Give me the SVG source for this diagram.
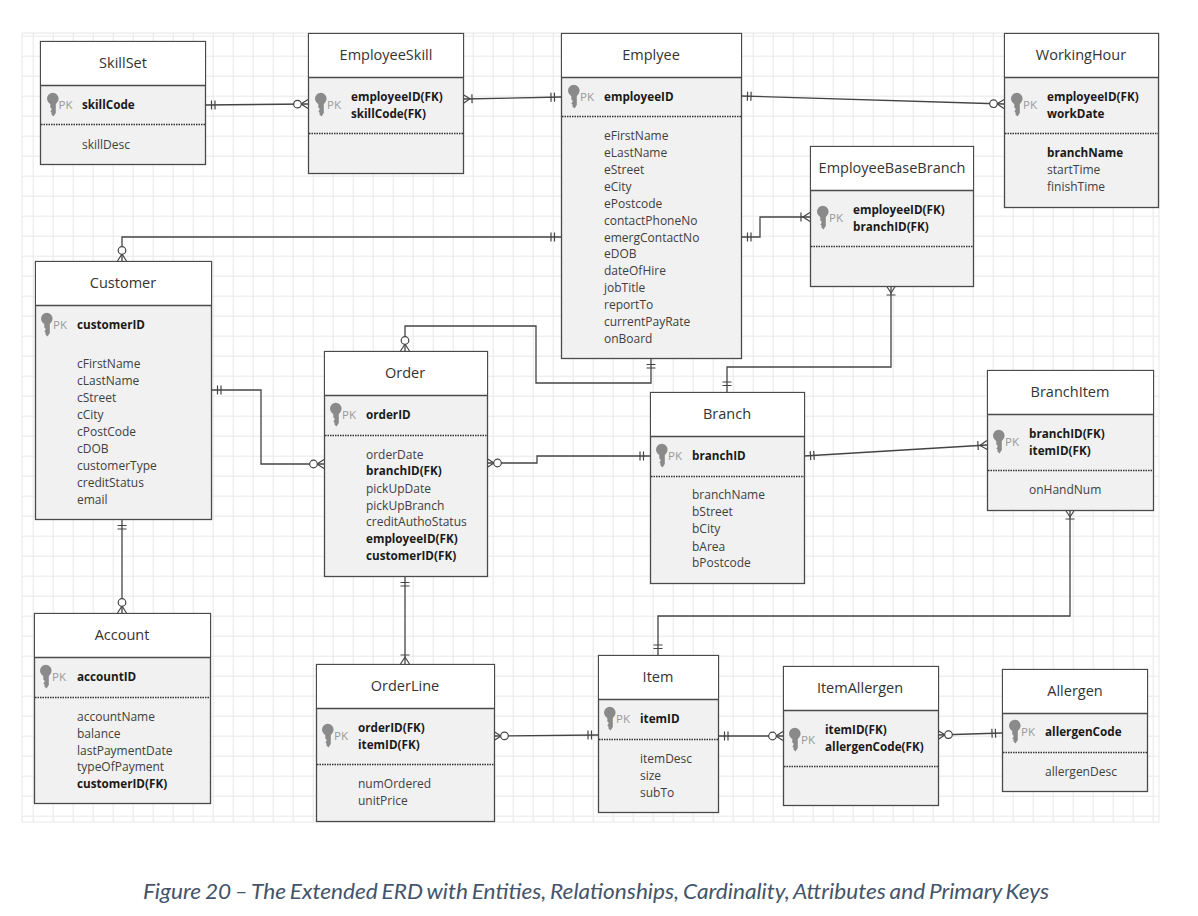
<svg xmlns="http://www.w3.org/2000/svg" width="1198" height="916" viewBox="0 0 1198 916">
<style>
text{font-family:"Open Sans","Noto Sans","Liberation Sans",sans-serif;fill:#333}
.t{font-size:14.5px;text-anchor:middle}
.a{font-size:12px;fill:#404040}
.b{font-size:11.7px;font-weight:700;fill:#1a1a1a}
.p{font-size:11.5px;fill:#9a9a9a}
.h{fill:#fff;stroke:none}
.f{fill:#f1f1f1;stroke:#4a4a4a;stroke-width:1.3}
.s{stroke:#4a4a4a;stroke-width:1.3;fill:none}
.d{stroke:#333;stroke-width:1.3;stroke-dasharray:1.5 1;fill:none}
.c{fill:none;stroke:#444;stroke-width:1.3}
.cap{font-family:Lato,"Open Sans",sans-serif;font-size:21.5px;font-style:italic;fill:#44546a;word-spacing:-1.5px}
</style>
<defs>
<pattern id="g" x="13.7" y="16.7" width="20" height="20" patternUnits="userSpaceOnUse"><path d="M20 0V20M0 20H20" fill="none" stroke="#e8e8e8" stroke-width="2"/></pattern>
<g id="key"><path d="M0 5.500A5.800 5.800 0 0 1 11.600 5.500C11.600 8.500 9.500 10 8.800 11V20L6.500 23.500L4.500 21.500V19.500L3.300 18.500L4.500 17V15.500L3.300 14.500V11C2 10 0 8.500 0 5.500Z" fill="#8a8a8a"/></g>
<marker id="one" markerUnits="userSpaceOnUse" markerWidth="24" markerHeight="24" refX="20" refY="12" orient="auto-start-reverse" viewBox="0 0 24 24"><path d="M10 7.500V16.500M13.500 7.500V16.500" stroke="#444" stroke-width="1.2" fill="none"/></marker>
<marker id="om" markerUnits="userSpaceOnUse" markerWidth="24" markerHeight="24" refX="20" refY="12" orient="auto-start-reverse" viewBox="0 0 24 24"><path d="M20 7.500L13 12L20 16.500M11 7.500V16.500" stroke="#444" stroke-width="1.2" fill="none"/></marker>
<marker id="zm" markerUnits="userSpaceOnUse" markerWidth="24" markerHeight="24" refX="20" refY="12" orient="auto-start-reverse" viewBox="0 0 24 24"><path d="M20 7.500L13 12L20 16.500" stroke="#444" stroke-width="1.2" fill="none"/><circle cx="9.500" cy="12" r="3.800" fill="#fff" stroke="#444" stroke-width="1.2"/></marker>
</defs>
<rect width="1198" height="916" fill="#fff"/>
<rect x="22" y="33" width="1137" height="789" fill="url(#g)" stroke="#e8e8e8"/>

<g id="connectors" class="c">
<path d="M205 105L308 104" marker-start="url(#one)" marker-end="url(#zm)"/>
<path d="M463 99L561 97" marker-start="url(#om)" marker-end="url(#one)"/>
<path d="M741 96L1004 104" marker-start="url(#one)" marker-end="url(#zm)"/>
<path d="M741 237H760V217H810" marker-start="url(#one)" marker-end="url(#om)"/>
<path d="M561 237H122V261" marker-start="url(#one)" marker-end="url(#zm)"/>
<path d="M211 390H261V464H324" marker-start="url(#one)" marker-end="url(#zm)"/>
<path d="M487 463H537V456H650" marker-start="url(#zm)" marker-end="url(#one)"/>
<path d="M405 351V326H536V383H651V358" marker-start="url(#zm)" marker-end="url(#one)"/>
<path d="M891 286V367H727V392" marker-start="url(#om)" marker-end="url(#one)"/>
<path d="M804 456L987 445" marker-start="url(#one)" marker-end="url(#om)"/>
<path d="M1070 510V616H658V655" marker-start="url(#om)" marker-end="url(#one)"/>
<path d="M122 519L122 613" marker-start="url(#one)" marker-end="url(#zm)"/>
<path d="M405 576V664" marker-start="url(#one)" marker-end="url(#om)"/>
<path d="M494 736L598 735" marker-start="url(#zm)" marker-end="url(#one)"/>
<path d="M718 736H783" marker-start="url(#one)" marker-end="url(#zm)"/>
<path d="M938 735L1002 733" marker-start="url(#zm)" marker-end="url(#one)"/>
</g>

<g id="SkillSet"><rect class="f" x="40.500" y="41.500" width="165" height="123"/><rect class="h" x="41" y="42" width="164" height="43"/><path class="s" d="M40.500 85.500H205.500"/><path class="d" d="M41 124.500H205"/>
<text class="t" x="123" y="68">SkillSet</text><use href="#key" x="47" y="93"/><text class="p" x="58.500" y="109">PK</text><text class="b" x="82" y="109">skillCode</text><text class="a" x="82" y="149">skillDesc</text></g>

<g id="EmployeeSkill"><rect class="f" x="308.500" y="33.500" width="155" height="140"/><rect class="h" x="309" y="34" width="154" height="43"/><path class="s" d="M308.500 77.500H463.500"/><path class="d" d="M309 133.500H463"/>
<text class="t" x="386" y="60">EmployeeSkill</text><use href="#key" x="315" y="93"/><text class="p" x="327" y="109">PK</text><text class="b" x="351" y="101">employeeID(FK)</text><text class="b" x="351" y="118">skillCode(FK)</text></g>

<g id="Emplyee"><rect class="f" x="561.500" y="33.500" width="180" height="325"/><rect class="h" x="562" y="34" width="179" height="43"/><path class="s" d="M561.500 77.500H741.500"/><path class="d" d="M562 116.500H741"/>
<text class="t" x="651" y="60">Emplyee</text><use href="#key" x="568" y="85"/><text class="p" x="580" y="101">PK</text><text class="b" x="604" y="101">employeeID</text>
<text class="a" x="604" y="140">eFirstName</text><text class="a" x="604" y="157">eLastName</text><text class="a" x="604" y="174">eStreet</text><text class="a" x="604" y="191">eCity</text><text class="a" x="604" y="208">ePostcode</text><text class="a" x="604" y="225">contactPhoneNo</text><text class="a" x="604" y="242">emergContactNo</text><text class="a" x="604" y="258">eDOB</text><text class="a" x="604" y="275">dateOfHire</text><text class="a" x="604" y="292">jobTitle</text><text class="a" x="604" y="309">reportTo</text><text class="a" x="604" y="326">currentPayRate</text><text class="a" x="604" y="343">onBoard</text></g>

<g id="WorkingHour"><rect class="f" x="1004.500" y="33.500" width="154" height="174"/><rect class="h" x="1005" y="34" width="153" height="43"/><path class="s" d="M1004.500 77.500H1158.500"/><path class="d" d="M1005 133.500H1158"/>
<text class="t" x="1081" y="60">WorkingHour</text><use href="#key" x="1011" y="93"/><text class="p" x="1023" y="109">PK</text><text class="b" x="1047" y="101">employeeID(FK)</text><text class="b" x="1047" y="118">workDate</text><text class="b" x="1047" y="157">branchName</text><text class="a" x="1047" y="174">startTime</text><text class="a" x="1047" y="191">finishTime</text></g>

<g id="EmployeeBaseBranch"><rect class="f" x="810.500" y="146.500" width="163" height="140"/><rect class="h" x="811" y="147" width="162" height="43"/><path class="s" d="M810.500 190.500H973.500"/><path class="d" d="M811 246.500H973"/>
<text class="t" x="892" y="173">EmployeeBaseBranch</text><use href="#key" x="817" y="206"/><text class="p" x="829" y="222">PK</text><text class="b" x="853" y="214">employeeID(FK)</text><text class="b" x="853" y="231">branchID(FK)</text></g>

<g id="Customer"><rect class="f" x="35.500" y="261.500" width="176" height="258"/><rect class="h" x="36" y="262" width="175" height="43"/><path class="s" d="M35.500 305.500H211.500"/>
<text class="t" x="123" y="288">Customer</text><use href="#key" x="41" y="313"/><text class="p" x="53" y="329">PK</text><text class="b" x="77" y="329">customerID</text>
<text class="a" x="77" y="368">cFirstName</text><text class="a" x="77" y="385">cLastName</text><text class="a" x="77" y="402">cStreet</text><text class="a" x="77" y="419">cCity</text><text class="a" x="77" y="436">cPostCode</text><text class="a" x="77" y="453">cDOB</text><text class="a" x="77" y="470">customerType</text><text class="a" x="77" y="487">creditStatus</text><text class="a" x="77" y="504">email</text></g>

<g id="Order"><rect class="f" x="324.500" y="351.500" width="163" height="225"/><rect class="h" x="325" y="352" width="162" height="43"/><path class="s" d="M324.500 395.500H487.500"/><path class="d" d="M325 435.500H487"/>
<text class="t" x="405" y="378">Order</text><use href="#key" x="330" y="403"/><text class="p" x="342" y="419">PK</text><text class="b" x="366" y="419">orderID</text>
<text class="a" x="366" y="459">orderDate</text><text class="b" x="366" y="475">branchID(FK)</text><text class="a" x="366" y="493">pickUpDate</text><text class="a" x="366" y="510">pickUpBranch</text><text class="a" x="366" y="526">creditAuthoStatus</text><text class="b" x="366" y="543">employeeID(FK)</text><text class="b" x="366" y="560">customerID(FK)</text></g>

<g id="Branch"><rect class="f" x="650.500" y="392.500" width="154" height="191"/><rect class="h" x="651" y="393" width="153" height="43"/><path class="s" d="M650.500 436.500H804.500"/><path class="d" d="M651 476.500H804"/>
<text class="t" x="727" y="419">Branch</text><use href="#key" x="656" y="444"/><text class="p" x="668" y="460">PK</text><text class="b" x="692" y="460">branchID</text>
<text class="a" x="692" y="499">branchName</text><text class="a" x="692" y="516">bStreet</text><text class="a" x="692" y="533">bCity</text><text class="a" x="692" y="551">bArea</text><text class="a" x="692" y="567">bPostcode</text></g>

<g id="BranchItem"><rect class="f" x="987.500" y="370.500" width="166" height="140"/><rect class="h" x="988" y="371" width="165" height="43"/><path class="s" d="M987.500 414.500H1153.500"/><path class="d" d="M988 470.500H1153"/>
<text class="t" x="1070" y="397">BranchItem</text><use href="#key" x="993" y="430"/><text class="p" x="1005" y="446">PK</text><text class="b" x="1029" y="438">branchID(FK)</text><text class="b" x="1029" y="455">itemID(FK)</text><text class="a" x="1029" y="494">onHandNum</text></g>

<g id="Account"><rect class="f" x="34.500" y="613.500" width="176" height="190"/><rect class="h" x="35" y="614" width="175" height="43"/><path class="s" d="M34.500 657.500H210.500"/><path class="d" d="M35 697.500H210"/>
<text class="t" x="122" y="640">Account</text><use href="#key" x="40" y="665"/><text class="p" x="52" y="681">PK</text><text class="b" x="77" y="681">accountID</text>
<text class="a" x="77" y="721">accountName</text><text class="a" x="77" y="738">balance</text><text class="a" x="77" y="755">lastPaymentDate</text><text class="a" x="77" y="771">typeOfPayment</text><text class="b" x="77" y="788">customerID(FK)</text></g>

<g id="OrderLine"><rect class="f" x="316.500" y="664.500" width="178" height="157"/><rect class="h" x="317" y="665" width="177" height="43"/><path class="s" d="M316.500 708.500H494.500"/><path class="d" d="M317 764.500H494"/>
<text class="t" x="405" y="691">OrderLine</text><use href="#key" x="322" y="724"/><text class="p" x="334" y="740">PK</text><text class="b" x="358" y="732">orderID(FK)</text><text class="b" x="358" y="749">itemID(FK)</text><text class="a" x="358" y="788">numOrdered</text><text class="a" x="358" y="805">unitPrice</text></g>

<g id="Item"><rect class="f" x="598.500" y="655.500" width="120" height="157"/><rect class="h" x="599" y="656" width="119" height="43"/><path class="s" d="M598.500 699.500H718.500"/><path class="d" d="M599 739.500H718"/>
<text class="t" x="658" y="682">Item</text><use href="#key" x="604" y="707"/><text class="p" x="616" y="723">PK</text><text class="b" x="640" y="723">itemID</text><text class="a" x="640" y="763">itemDesc</text><text class="a" x="640" y="780">size</text><text class="a" x="640" y="797">subTo</text></g>

<g id="ItemAllergen"><rect class="f" x="783.500" y="666.500" width="155" height="139"/><rect class="h" x="784" y="667" width="154" height="43"/><path class="s" d="M783.500 710.500H938.500"/><path class="d" d="M784 766.500H938"/>
<text class="t" x="860" y="693">ItemAllergen</text><use href="#key" x="789" y="728"/><text class="p" x="801" y="744">PK</text><text class="b" x="825" y="734">itemID(FK)</text><text class="b" x="825" y="751">allergenCode(FK)</text></g>

<g id="Allergen"><rect class="f" x="1002.500" y="669.500" width="145" height="122"/><rect class="h" x="1003" y="670" width="144" height="43"/><path class="s" d="M1002.500 713.500H1147.500"/><path class="d" d="M1003 752.500H1147"/>
<text class="t" x="1075" y="696">Allergen</text><use href="#key" x="1009" y="720"/><text class="p" x="1021" y="736">PK</text><text class="b" x="1045" y="736">allergenCode</text><text class="a" x="1045" y="776">allergenDesc</text></g>

<text class="cap" x="143" y="899" textLength="906" lengthAdjust="spacingAndGlyphs">Figure 20 – The Extended ERD with Entities, Relationships, Cardinality, Attributes and Primary Keys</text>
</svg>
